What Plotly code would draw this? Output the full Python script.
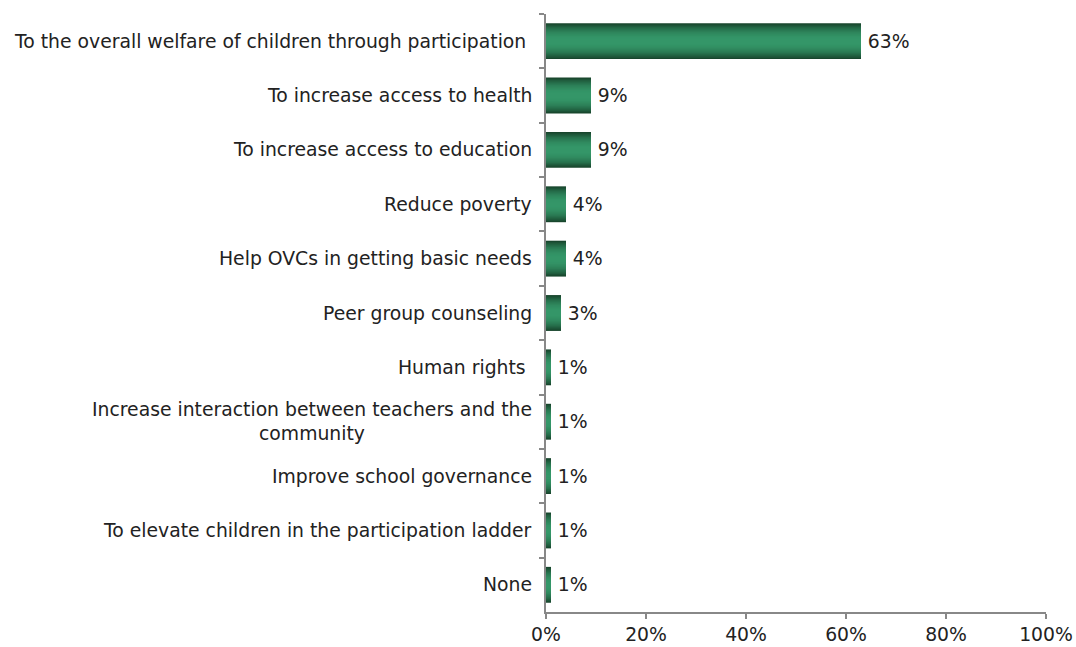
import plotly.graph_objects as go

# Responses (percent of respondents)
categories = [
    "To the overall welfare of children through participation\u00a0",
    "To increase access to health",
    "To increase access to education",
    "Reduce poverty",
    "Help OVCs in getting basic needs",
    "Peer group counseling",
    "Human rights\u00a0",
    "Increase interaction between teachers and the<br>community",
    "Improve school governance",
    "To elevate children in the participation ladder",
    "None",
]
values = [63, 9, 9, 4, 4, 3, 1, 1, 1, 1, 1]
x_ticks = [0, 20, 40, 60, 80, 100]

FONT = "DejaVu Sans"
FS = 18.8
BAR_WIDTH = 0.66
LAYERS = 14
DARK = (24, 70, 45)
LIGHT = (52, 150, 104)

fig = go.Figure()

# Cylinder-style shading: stacked, progressively narrower and lighter bars
for i in range(LAYERS):
    t = i / (LAYERS - 1)
    s = 1 - (1 - t) ** 2
    col = "rgb({},{},{})".format(*[round(d + (l - d) * s) for d, l in zip(DARK, LIGHT)])
    w = BAR_WIDTH * (1 - 0.9 * t)
    fig.add_trace(go.Bar(
        x=values,
        y=categories,
        orientation="h",
        width=w,
        marker=dict(color=col, line=dict(width=0)),
        text=[f"\u2009{v}%" for v in values] if i == 0 else None,
        textposition="outside" if i == 0 else "none",
        textfont=dict(family=FONT, size=FS, color="#222"),
        cliponaxis=False,
        hoverinfo="skip",
        showlegend=False,
    ))

# Category labels, centred within their own text box
for c in categories:
    fig.add_annotation(
        x=0, xref="paper", y=c, yref="y",
        text=c, showarrow=False,
        xanchor="right", yanchor="middle", align="center",
        xshift=-12,
        font=dict(family=FONT, size=FS, color="#222"),
    )

fig.update_layout(
    width=1076, height=647,
    margin=dict(l=546, r=30, t=14, b=35, autoexpand=False),
    paper_bgcolor="white", plot_bgcolor="white",
    barmode="overlay",
    font=dict(family=FONT, size=FS, color="#222"),
)
fig.update_xaxes(
    range=[0, 100],
    tickvals=x_ticks,
    ticktext=[f"{v}%" for v in x_ticks],
    automargin=False,
    showgrid=False, zeroline=False,
    showline=True, linecolor="#888", linewidth=1.5,
    ticks="outside", ticklen=5, tickcolor="#888", tickwidth=1.5,
    tickfont=dict(family=FONT, size=FS, color="#222"),
)
fig.update_yaxes(
    type="category",
    categoryorder="array", categoryarray=categories,
    autorange="reversed",
    automargin=False,
    showticklabels=False,
    showgrid=False, zeroline=False,
    showline=True, linecolor="#888", linewidth=1.5,
    ticks="outside", ticklen=5, tickcolor="#888", tickwidth=1.5,
    tickson="boundaries",
)

fig.write_html("out.html")
